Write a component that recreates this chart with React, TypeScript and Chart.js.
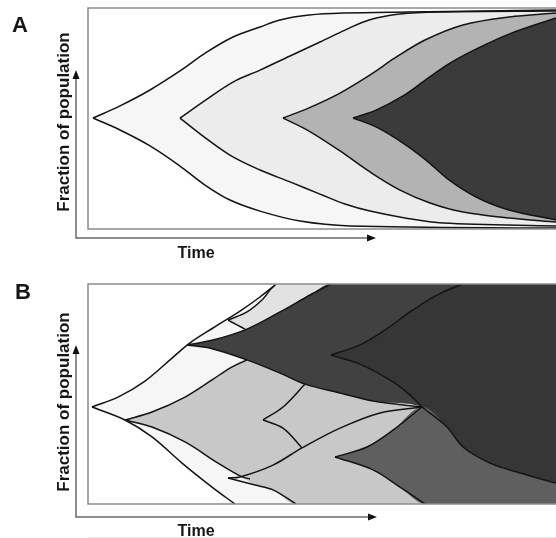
import React, { useEffect, useRef } from "react";
import { Chart, registerables } from "chart.js";

Chart.register(...registerables);

type Pair = [number, number];

// x = time (arbitrary units), y = fraction of population (0..1)
const TIME_MAX = 468;

// ---------- Panel A : successive nested clones ----------
const aClone1Upper: Pair[] = [[5, 0.502], [32, 0.557], [62, 0.629], [92, 0.715], [119, 0.801], [145, 0.869], [172, 0.914], [192, 0.946], [221, 0.968], [255, 0.977], [321, 0.982], [468, 0.991]];
const aClone1Lower: Pair[] = [[5, 0.502], [32, 0.448], [62, 0.376], [92, 0.285], [117, 0.199], [142, 0.131], [172, 0.081], [212, 0.036], [262, 0.014], [468, 0.004]];
const aClone2Upper: Pair[] = [[92, 0.502], [119, 0.588], [145, 0.665], [172, 0.719], [202, 0.783], [232, 0.846], [257, 0.9], [281, 0.946], [312, 0.973], [355, 0.982], [468, 0.986]];
const aClone2Lower: Pair[] = [[92, 0.502], [119, 0.407], [145, 0.326], [172, 0.267], [202, 0.213], [232, 0.158], [257, 0.113], [282, 0.081], [317, 0.05], [355, 0.027], [468, 0.014]];
const aClone3Upper: Pair[] = [[195, 0.502], [221, 0.548], [252, 0.615], [282, 0.697], [307, 0.774], [337, 0.855], [375, 0.923], [421, 0.959], [468, 0.977]];
const aClone3Lower: Pair[] = [[195, 0.502], [221, 0.443], [252, 0.353], [282, 0.258], [312, 0.176], [342, 0.118], [375, 0.077], [421, 0.05], [468, 0.032]];
const aClone4Upper: Pair[] = [[265, 0.502], [288, 0.538], [315, 0.602], [340, 0.683], [362, 0.751], [388, 0.814], [421, 0.882], [468, 0.955]];
const aClone4Lower: Pair[] = [[265, 0.502], [288, 0.462], [315, 0.389], [338, 0.312], [361, 0.222], [388, 0.145], [421, 0.086], [468, 0.041]];
const aColors = ["#f6f6f6", "#ececec", "#b3b3b3", "#3b3b3b"];

// ---------- Panel B : branching clones ----------
const bWTop: Pair[] = [[4, 0.441], [30, 0.486], [57, 0.559], [82, 0.655], [102, 0.732], [125, 0.8], [152, 0.877], [172, 0.941], [187, 0.995]];
const bWBot: Pair[] = [[4, 0.441], [37, 0.382], [64, 0.305], [94, 0.186], [124, 0.077], [147, 0]];
const bL1Top: Pair[] = [[37, 0.382], [64, 0.418], [97, 0.486], [124, 0.564], [142, 0.618], [159, 0.655]];
const bL1Bot: Pair[] = [[37, 0.382], [64, 0.35], [97, 0.282], [130, 0.186], [154, 0.123], [162, 0.114]];
const bL2Top: Pair[] = [[140, 0.118], [152, 0.123], [185, 0.177], [214, 0.255], [252, 0.345], [292, 0.414], [334, 0.441]];
const bL2Bot: Pair[] = [[140, 0.118], [167, 0.086], [185, 0.064], [208, 0]];
const bL3Top: Pair[] = [[175, 0.382], [195, 0.441], [217, 0.545]];
const bL3Bot: Pair[] = [[175, 0.382], [195, 0.345], [214, 0.255]];
const bL4Top: Pair[] = [[140, 0.836], [159, 0.873], [175, 0.932], [182, 0.973], [188, 1.0]];
const bL4Bot: Pair[] = [[140, 0.836], [149, 0.814], [157, 0.795]];
const bD1Top: Pair[] = [[99, 0.723], [125, 0.745], [159, 0.795], [192, 0.873], [222, 0.95], [243, 1.0]];
const bD1Bot: Pair[] = [[99, 0.723], [125, 0.705], [159, 0.655], [192, 0.595], [217, 0.545], [252, 0.505], [285, 0.468], [334, 0.441]];
const bD2Top: Pair[] = [[243, 0.677], [272, 0.723], [297, 0.791], [322, 0.873], [347, 0.945], [374, 1.0]];
const bD2Bot: Pair[] = [[243, 0.677], [272, 0.636], [305, 0.555], [322, 0.495], [334, 0.441]];
const bMTop: Pair[] = [[247, 0.214], [279, 0.259], [305, 0.336], [334, 0.441]];
const bMBot: Pair[] = [[247, 0.214], [285, 0.155], [312, 0.077], [337, 0]];
const bDMBoundary: Pair[] = [[334, 0.441], [359, 0.35], [375, 0.259], [402, 0.186], [432, 0.141], [468, 0.095]];
const bColors = { W: "#f6f6f6", L: "#c8c8c8", L4: "#e2e2e2", D1: "#414141", D2: "#363636", M: "#5f5f5f" };

const FONT = '"Liberation Sans", Arial, Helvetica, sans-serif';
const STROKE = "#141414";
const TENSION = 0.35;

const toPts = (a: Pair[]) => a.map(([x, y]) => ({ x, y }));

interface FillSpec { upper: Pair[]; lower: Pair[]; color: string }

function strokeDs(a: Pair[]) {
  return {
    data: toPts(a),
    borderColor: STROKE,
    borderWidth: 1.5,
    fill: false,
    pointRadius: 0,
    tension: TENSION,
  };
}

function fillPair(f: FillSpec) {
  return [
    { data: toPts(f.upper), borderColor: "rgba(0,0,0,0)", borderWidth: 0, backgroundColor: f.color, fill: "+1", pointRadius: 0, tension: TENSION },
    { data: toPts(f.lower), borderColor: "rgba(0,0,0,0)", borderWidth: 0, fill: false, pointRadius: 0, tension: TENSION },
  ];
}

interface Deco {
  letter: string; letterX: number; letterY: number;
  titleY: number; axisY: number; yTip: number; xTip: number; timeY: number;
  extraLineY?: number;
}

function decoPlugin(d: Deco) {
  return {
    id: "deco",
    afterDraw(chart: any) {
      const ctx: CanvasRenderingContext2D = chart.ctx;
      const a = chart.chartArea;
      ctx.save();
      // box
      ctx.strokeStyle = "#8a8a8a";
      ctx.lineWidth = 1.5;
      ctx.beginPath();
      ctx.moveTo(a.right + 5, a.top);
      ctx.lineTo(a.left, a.top);
      ctx.lineTo(a.left, a.bottom);
      ctx.lineTo(a.right + 5, a.bottom);
      ctx.stroke();
      // axes arrows
      const ax = 76;
      ctx.strokeStyle = "#6a6a6a";
      ctx.lineWidth = 1.5;
      ctx.beginPath();
      ctx.moveTo(ax, d.yTip + 6);
      ctx.lineTo(ax, d.axisY);
      ctx.lineTo(d.xTip - 6, d.axisY);
      ctx.stroke();
      ctx.fillStyle = "#111";
      ctx.beginPath();
      ctx.moveTo(ax, d.yTip);
      ctx.lineTo(ax - 3.5, d.yTip + 9);
      ctx.lineTo(ax + 3.5, d.yTip + 9);
      ctx.closePath();
      ctx.fill();
      ctx.beginPath();
      ctx.moveTo(d.xTip, d.axisY);
      ctx.lineTo(d.xTip - 9, d.axisY - 3.5);
      ctx.lineTo(d.xTip - 9, d.axisY + 3.5);
      ctx.closePath();
      ctx.fill();
      if (d.extraLineY !== undefined) {
        ctx.strokeStyle = "#e4e4e4";
        ctx.lineWidth = 1;
        ctx.beginPath();
        ctx.moveTo(88, d.extraLineY);
        ctx.lineTo(556, d.extraLineY);
        ctx.stroke();
      }
      // texts
      ctx.fillStyle = "#161616";
      ctx.textBaseline = "alphabetic";
      ctx.textAlign = "left";
      ctx.font = `bold 22px ${FONT}`;
      ctx.fillText(d.letter, d.letterX, d.letterY);
      ctx.font = `bold 16px ${FONT}`;
      ctx.textAlign = "center";
      ctx.fillText("Time", 196, d.timeY);
      ctx.font = `bold 17px ${FONT}`;
      ctx.translate(69, d.titleY);
      ctx.rotate(-Math.PI / 2);
      ctx.fillText("Fraction of population", 0, 0);
      ctx.restore();
    },
  };
}

interface PanelProps {
  top: number; height: number;
  padding: { left: number; top: number; right: number; bottom: number };
  strokes: Pair[][]; fills: FillSpec[]; deco: Deco;
}

function Panel({ top, height, padding, strokes, fills, deco }: PanelProps) {
  const ref = useRef<HTMLCanvasElement>(null);
  useEffect(() => {
    if (!ref.current) return;
    const datasets: any[] = [
      ...strokes.map(strokeDs),
      ...fills.slice().reverse().flatMap(fillPair),
    ];
    const chart = new Chart(ref.current, {
      type: "line",
      data: { datasets },
      options: {
        animation: false,
        responsive: false,
        devicePixelRatio: 1,
        events: [],
        layout: { padding },
        plugins: { legend: { display: false }, tooltip: { enabled: false } },
        scales: {
          x: { type: "linear", min: 0, max: TIME_MAX, display: false },
          y: { type: "linear", min: 0, max: 1, display: false },
        },
      },
      plugins: [decoPlugin(deco)],
    } as any);
    return () => chart.destroy();
  }, []);
  return (
    <canvas
      ref={ref}
      width={556}
      height={height}
      style={{ position: "absolute", left: 0, top, width: 556, height, display: "block" }}
    />
  );
}

export default function App() {
  const aStrokes = [aClone1Upper, aClone1Lower, aClone2Upper, aClone2Lower, aClone3Upper, aClone3Lower, aClone4Upper, aClone4Lower];
  const aFills: FillSpec[] = [
    { upper: aClone1Upper, lower: aClone1Lower, color: aColors[0] },
    { upper: aClone2Upper, lower: aClone2Lower, color: aColors[1] },
    { upper: aClone3Upper, lower: aClone3Lower, color: aColors[2] },
    { upper: aClone4Upper, lower: aClone4Lower, color: aColors[3] },
  ];

  const bStrokes = [bWTop, bWBot, bL1Top, bL1Bot, bL2Top, bL2Bot, bL3Top, bL3Bot, bL4Top, bL4Bot, bD1Top, bD1Bot, bD2Top, bD2Bot, bMTop, bMBot, bDMBoundary];
  const bFills: FillSpec[] = [
    { upper: [...bWTop, [TIME_MAX, 1]], lower: [...bWBot, [TIME_MAX, 0]], color: bColors.W },
    {
      upper: [...bL1Top, ...bD1Bot.filter((p) => p[0] > 159), [TIME_MAX, 0.441]],
      lower: [...bL1Bot.filter((p) => p[0] <= 154), ...bL2Bot.filter((p) => p[0] > 154), [TIME_MAX, 0]],
      color: bColors.L,
    },
    { upper: [...bL4Top, [TIME_MAX, 1]], lower: [...bL4Bot, ...bD1Top.filter((p) => p[0] > 157), [TIME_MAX, 1]], color: bColors.L4 },
    { upper: [...bD1Top, [TIME_MAX, 1]], lower: [...bD1Bot, ...bDMBoundary.slice(1)], color: bColors.D1 },
    { upper: [...bD2Top, [TIME_MAX, 1]], lower: [...bD2Bot, ...bDMBoundary.slice(1)], color: bColors.D2 },
    { upper: [...bMTop, ...bDMBoundary.slice(1)], lower: [...bMBot, [TIME_MAX, 0]], color: bColors.M },
  ];

  return (
    <div style={{ position: "absolute", left: 0, top: 0, width: 556, height: 538, overflow: "hidden", background: "#fff" }}>
      <Panel
        top={0}
        height={269}
        padding={{ left: 88, top: 8, right: 0, bottom: 40 }}
        strokes={aStrokes}
        fills={aFills}
        deco={{ letter: "A", letterX: 12, letterY: 32, titleY: 122, axisY: 238, yTip: 70, xTip: 376, timeY: 258 }}
      />
      <Panel
        top={269}
        height={269}
        padding={{ left: 88, top: 15, right: 0, bottom: 34 }}
        strokes={bStrokes}
        fills={bFills}
        deco={{ letter: "B", letterX: 15, letterY: 30, titleY: 133, axisY: 248, yTip: 76, xTip: 377, timeY: 267, extraLineY: 268.5 }}
      />
    </div>
  );
}
